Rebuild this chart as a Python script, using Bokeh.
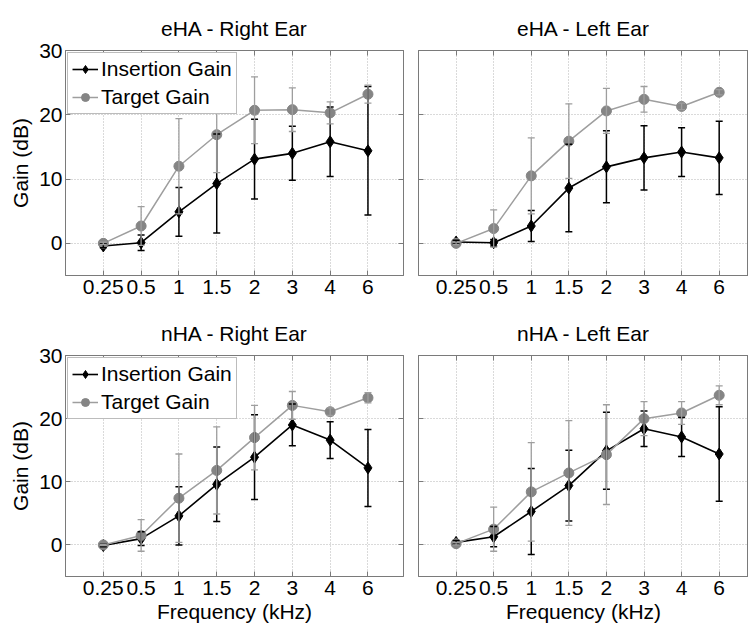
import numpy as np
from bokeh.plotting import figure
from bokeh.models import (ColumnDataSource, Whisker, TeeHead, FixedTicker, LinearAxis,
                          Title, Legend, LegendItem)
from bokeh.layouts import gridplot
from bokeh.embed import file_html
from bokeh.resources import INLINE

# ---------------- data ----------------
freq_labels = ["0.25", "0.5", "1", "1.5", "2", "3", "4", "6"]
y_ticks = [0, 10, 20, 30]

eha_right_ins = [-0.4, 0.1, 4.9, 9.3, 13.1, 14.0, 15.8, 14.4]
eha_right_ins_sd = [0.3, 1.2, 3.8, 7.7, 6.2, 4.2, 5.4, 10.0]
eha_right_tgt = [0.0, 2.7, 12.0, 16.9, 20.7, 20.8, 20.3, 23.2]
eha_right_tgt_sd = [0.2, 3.0, 7.4, 5.9, 5.2, 3.4, 1.7, 1.4]

eha_left_ins = [0.2, 0.1, 2.7, 8.6, 11.9, 13.3, 14.2, 13.3]
eha_left_ins_sd = [0.3, 0.5, 2.4, 6.8, 5.6, 5.0, 3.8, 5.7]
eha_left_tgt = [0.0, 2.3, 10.5, 15.9, 20.6, 22.4, 21.3, 23.5]
eha_left_tgt_sd = [0.2, 2.9, 5.9, 5.8, 3.5, 2.0, 0.5, 0.4]

nha_right_ins = [-0.1, 1.0, 4.6, 9.6, 13.9, 19.0, 16.6, 12.2]
nha_right_ins_sd = [0.2, 1.1, 4.6, 5.9, 6.7, 3.3, 2.9, 6.1]
nha_right_tgt = [0.0, 1.5, 7.4, 11.8, 17.0, 22.1, 21.1, 23.3]
nha_right_tgt_sd = [0.1, 2.5, 7.0, 6.9, 5.1, 2.2, 0.6, 0.8]

nha_left_ins = [0.4, 1.3, 5.3, 9.4, 14.9, 18.4, 17.1, 14.4]
nha_left_ins_sd = [0.3, 1.6, 6.8, 5.6, 6.1, 2.8, 3.1, 7.5]
nha_left_tgt = [0.2, 2.5, 8.4, 11.4, 14.3, 20.0, 20.9, 23.7]
nha_left_tgt_sd = [0.2, 3.5, 7.8, 8.3, 7.9, 2.7, 1.8, 1.5]

# ---------------- style ----------------
FONT = "Liberation Sans"
FS = "21px"
AX = "#7a7a7a"
GRID = "#b4b4b4"
BLACK = "#000000"
GRAY_M = "#858585"
GRAY_L = "#9e9e9e"

x_pos = list(range(1, len(freq_labels) + 1))
label_map = {x: l for x, l in zip(x_pos, freq_labels)}


def style_axis(ax, show_labels):
    ax.axis_line_color = AX
    ax.major_tick_line_color = AX
    ax.major_tick_in = 5
    ax.major_tick_out = 0
    ax.minor_tick_line_color = None
    ax.major_label_text_font = FONT
    ax.major_label_text_font_size = FS
    ax.axis_label_text_font = FONT
    ax.axis_label_text_font_style = "normal"
    ax.axis_label_text_font_size = FS
    ax.axis_label_text_color = "black"
    if show_labels:
        ax.major_label_text_color = "black"
    else:
        ax.major_label_text_color = None
        ax.major_label_standoff = 0


def panel(title, ins, ins_sd, tgt, tgt_sd, is_left, is_top, show_legend):
    w = 410 if is_left else 338
    h = 308 if is_top else 317
    x_end = 8.94 if is_left else 8.78
    p = figure(width=w, height=h, x_range=(0, x_end), y_range=(-5, 30),
               output_backend="svg", toolbar_location=None, title=None,
               min_border_left=65 if is_left else 8,
               min_border_right=7 if is_left else 0,
               min_border_top=50 if is_top else 44,
               min_border_bottom=33 if is_top else 49,
               background_fill_color="white", border_fill_color="white",
               outline_line_color=AX)

    xt = FixedTicker(ticks=x_pos)
    yt = FixedTicker(ticks=y_ticks)
    p.xaxis.ticker = xt
    p.yaxis.ticker = yt
    p.xaxis.major_label_overrides = label_map
    p.xaxis.major_label_standoff = 4
    p.yaxis.major_label_standoff = 3
    style_axis(p.xaxis[0], True)
    if is_left:
        style_axis(p.yaxis[0], True)
        p.yaxis.axis_label = "Gain (dB)"
        p.yaxis.axis_label_standoff = 4
    else:
        style_axis(p.yaxis[0], False)
    if not is_top:
        p.xaxis.axis_label = "Frequency (kHz)"
        p.xaxis.axis_label_standoff = 2

    top_ax = LinearAxis(ticker=FixedTicker(ticks=x_pos))
    style_axis(top_ax, False)
    p.add_layout(top_ax, "above")
    if is_left:
        right_ax = LinearAxis(ticker=FixedTicker(ticks=y_ticks))
        style_axis(right_ax, False)
        p.add_layout(right_ax, "right")

    p.add_layout(Title(text=title, text_font=FONT, text_font_size=FS,
                       text_font_style="normal", align="center", standoff=22,
                       text_color="black"), "above")

    for g, t in ((p.xgrid, xt), (p.ygrid, yt)):
        g.ticker = t
        g.grid_line_color = GRID
        g.grid_line_dash = "1 2"
        g.grid_line_width = 1

    src_i = ColumnDataSource(dict(
        x=x_pos, y=ins,
        lo=[m - s for m, s in zip(ins, ins_sd)],
        hi=[m + s for m, s in zip(ins, ins_sd)]))
    src_t = ColumnDataSource(dict(
        x=x_pos, y=tgt,
        lo=[m - s for m, s in zip(tgt, tgt_sd)],
        hi=[m + s for m, s in zip(tgt, tgt_sd)]))

    for src, col, lw in ((src_i, BLACK, 1.5), (src_t, GRAY_L, 1.3)):
        p.add_layout(Whisker(source=src, base="x", lower="lo", upper="hi",
                             line_color=col, line_width=lw, level="glyph",
                             upper_head=TeeHead(size=7, line_color=col, line_width=lw),
                             lower_head=TeeHead(size=7, line_color=col, line_width=lw)))

    li = p.line("x", "y", source=src_i, line_color=BLACK, line_width=1.6)
    si = p.scatter("x", "y", source=src_i, marker="diamond", size=12,
                   fill_color=BLACK, line_color=BLACK)
    lt = p.line("x", "y", source=src_t, line_color=GRAY_L, line_width=1.5)
    st = p.scatter("x", "y", source=src_t, marker="circle", size=10,
                   fill_color=GRAY_M, line_color=GRAY_M)

    if show_legend:
        leg = Legend(items=[LegendItem(label="Insertion Gain", renderers=[li, si]),
                            LegendItem(label="Target Gain", renderers=[lt, st])],
                     location="top_left", margin=2, padding=4, spacing=4,
                     glyph_width=26, label_standoff=3,
                     label_text_font=FONT, label_text_font_size=FS,
                     label_text_color="black",
                     border_line_color=AX, background_fill_color="white",
                     background_fill_alpha=1.0)
        p.add_layout(leg, "center")
    return p


p1 = panel("eHA - Right Ear", eha_right_ins, eha_right_ins_sd, eha_right_tgt, eha_right_tgt_sd,
           True, True, True)
p2 = panel("eHA - Left Ear", eha_left_ins, eha_left_ins_sd, eha_left_tgt, eha_left_tgt_sd,
           False, True, False)
p3 = panel("nHA - Right Ear", nha_right_ins, nha_right_ins_sd, nha_right_tgt, nha_right_tgt_sd,
           True, False, True)
p4 = panel("nHA - Left Ear", nha_left_ins, nha_left_ins_sd, nha_left_tgt, nha_left_tgt_sd,
           False, False, False)

grid = gridplot([[p1, p2], [p3, p4]], toolbar_location=None)

open("out.html", "w").write(file_html(grid, INLINE))
